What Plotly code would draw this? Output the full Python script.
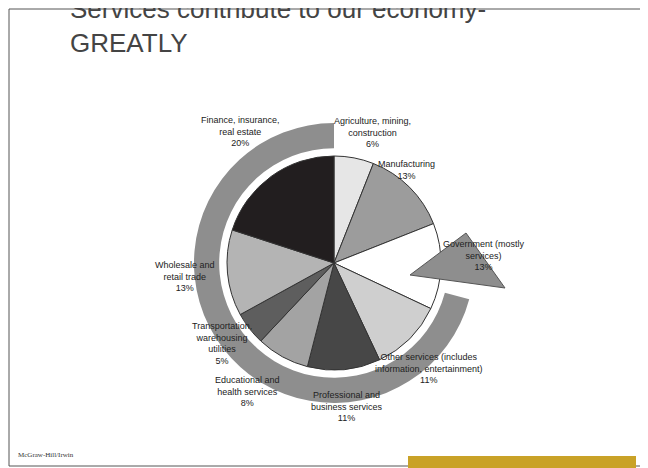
import plotly.graph_objects as go

# sectors, clockwise from the top
sectors = ["Agriculture, mining, construction", "Manufacturing", "Government (mostly services)",
           "Other services (includes information, entertainment)", "Professional and business services",
           "Educational and health services", "Transportation, warehousing utilities",
           "Wholesale and retail trade", "Finance, insurance, real estate"]
shares = [6, 13, 13, 11, 11, 8, 5, 13, 20]
colors = ["#e6e6e6", "#9c9c9c", "#ffffff", "#cfcfcf", "#474747", "#a3a3a3", "#5e5e5e", "#b4b4b4", "#221e1f"]

# the page shows the figure shifted, so work in page pixels with an offset
OFF = 8
W, H = 640, 460
CX, CY = 334, 263
def px(x, y):
    return (x - OFF) / W, 1 - (y - OFF) / H

def dom(r):
    x0, y1 = px(CX - r, CY - r)
    x1, y0 = px(CX + r, CY + r)
    return dict(x=[x0, x1], y=[y0, y1])

fig = go.Figure()
# arrow ring behind the pie
fig.add_trace(go.Pie(values=[105, 255], sort=False, direction="clockwise", rotation=0,
                     marker=dict(colors=["rgba(0,0,0,0)", "#8e8e8e"], line=dict(width=0)),
                     hole=0.82, textinfo="none", hoverinfo="skip", showlegend=False, domain=dom(140)))
fig.add_trace(go.Pie(labels=sectors, values=shares, sort=False, direction="clockwise", rotation=0,
                     marker=dict(colors=colors, line=dict(color="#333", width=1)),
                     textinfo="none", showlegend=False, domain=dom(107)))

# arrow head
pts = [px(410, 275), px(466, 233), px(505, 288)]
path = "M " + " L ".join(f"{x},{y}" for x, y in pts) + " Z"
fig.add_shape(type="path", path=path, xref="paper", yref="paper", fillcolor="#8e8e8e", line=dict(color="#555", width=1))

# slide frame and footer
x0, y0 = px(9, 9); x1, y1 = px(643, 466)
fig.add_shape(type="rect", xref="paper", yref="paper", x0=x0, y0=y1, x1=x1, y1=y0, line=dict(color="#555", width=1))
a, b = px(408, 456); c, d = px(636, 468)
fig.add_shape(type="rect", xref="paper", yref="paper", x0=a, y0=d, x1=c, y1=b, fillcolor="#c9a227", line=dict(width=0))

labels = [
    ("Agriculture, mining,<br>construction<br>6%", 372, 114),
    ("Manufacturing<br>13%", 437, 170),
    ("Government (mostly<br>services)<br>13%", 527, 255),
    ("Other services (includes<br>information, entertainment)<br>11%", 485, 387),
    ("Professional and<br>business services<br>11%", 347, 425),
    ("Educational and<br>health services<br>8%", 247, 410),
    ("Transportation,<br>warehousing<br>utilities<br>5%", 190, 368),
    ("Wholesale and<br>retail trade<br>13%", 153, 276),
    ("Finance, insurance,<br>real estate<br>20%", 240, 113),
]
for t, x, y in labels:
    ax, ay = px(x, y)
    fig.add_annotation(text=t, x=ax, y=ay, xref="paper", yref="paper", showarrow=False,
                       font=dict(family="Liberation Sans", size=9, color="#222"))

tx, ty = px(68, 26)
fig.add_annotation(text="Services contribute to our economy-<br>GREATLY", x=tx, y=ty, xref="paper", yref="paper",
                   xanchor="left", yanchor="middle", align="left", showarrow=False,
                   font=dict(family="Liberation Sans", size=26, color="#444"))
fx, fy = px(16, 461)
fig.add_annotation(text="McGraw-Hill/Irwin", x=fx, y=fy, xref="paper", yref="paper", xanchor="left",
                   showarrow=False, font=dict(family="Liberation Serif", size=7, color="#333"))

fig.update_layout(width=W, height=H, margin=dict(l=0, r=0, t=0, b=0),
                  paper_bgcolor="white", plot_bgcolor="white")
fig.write_html("out.html")
